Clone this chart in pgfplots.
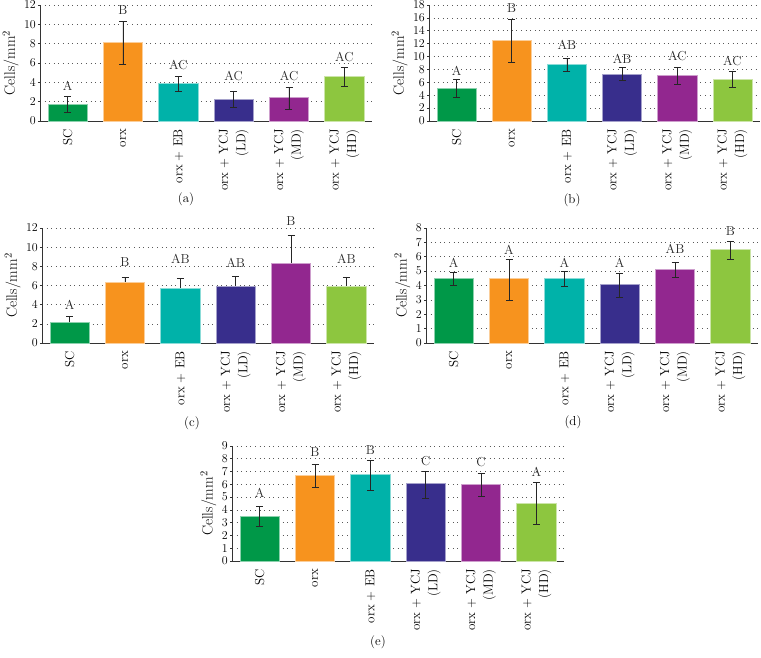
\documentclass[border=0pt]{standalone}
\usepackage{fontspec}
\usepackage{pgfplots}
\pgfplotsset{compat=1.18}
\definecolor{cSC}{RGB}{0,152,72}
\definecolor{cORX}{RGB}{247,147,30}
\definecolor{cEB}{RGB}{0,178,169}
\definecolor{cLD}{RGB}{56,46,140}
\definecolor{cMD}{RGB}{146,39,143}
\definecolor{cHD}{RGB}{141,198,63}
\newcommand{\fs}{\fontsize{13}{17.5}\selectfont}
\newcommand{\fl}{\fontsize{15}{17}\selectfont}
\pgfplotsset{
  panel/.style={
    scale only axis, width=332pt, height=116pt, anchor=south west,
    xmin=-0.5, xmax=5.5, ymin=0, clip=false,
    axis x line=bottom, axis y line=left,
    axis line style={-, black!80, line width=0.8pt},
    xtick={0,1,2,3,4,5},
    xticklabels={SC, orx, orx + EB, {orx + YCJ\\(LD)}, {orx + YCJ\\(MD)}, {orx + YCJ\\(HD)}},
    xtick style={draw=none},
    xticklabel style={rotate=90, anchor=east, align=right, font=\fs, inner sep=1pt},
    xticklabel shift=5pt,
    ymajorgrids,
    major grid style={black!65, line width=0.6pt, dash pattern=on 1pt off 3.6pt},
    ylabel={Cells/mm\textsuperscript{2}},
    ylabel style={font=\fl},
    yticklabel style={font=\fs, inner sep=2pt},
    tick align=outside, major tick length=2pt,
    ytick style={black!80, line width=0.6pt},
  },
  sbar/.style={ybar, bar shift=0pt, bar width=0.71, fill=#1, draw=#1!45!white, line width=0.6pt,
    error bars/.cd, y dir=both, y explicit,
    error bar style={black!85, line width=0.7pt},
    error mark options={rotate=90, black!85, line width=0.7pt, mark size=3.5pt}},
  sbarplus/.style={ybar, bar shift=0pt, bar width=0.71, fill=#1, draw=#1!45!white, line width=0.6pt,
    error bars/.cd, y dir=plus, y explicit,
    error bar style={black!85, line width=0.7pt},
    error mark options={rotate=90, black!85, line width=0.7pt, mark size=3.5pt}},
  lab/.style={draw=none, mark=none, nodes near coords, point meta=explicit symbolic,
    nodes near coords style={anchor=south, inner sep=0pt, font=\fs, black!85}},
}
\begin{document}
\begin{tikzpicture}
\useasboundingbox (0,0) rectangle (761pt,657pt);
% (a)
\begin{axis}[panel, at={(40pt,536pt)}, ymax=12, ytick={0,2,...,12}]
\addplot[sbar=cSC]  coordinates {(0,1.73) += (0,0.87) -= (0,0.86)};
\addplot[sbar=cORX] coordinates {(1,8.13) += (0,2.22) -= (0,2.28)};
\addplot[sbar=cEB]  coordinates {(2,3.88) += (0,0.69) -= (0,0.77)};
\addplot[sbar=cLD]  coordinates {(3,2.28) += (0,0.83) -= (0,0.86)};
\addplot[sbar=cMD]  coordinates {(4,2.42) += (0,1.11) -= (0,1.24)};
\addplot[sbar=cHD]  coordinates {(5,4.60) += (0,0.90) -= (0,0.97)};
\addplot[lab] coordinates {(0,3.11)[A] (1,10.97)[B] (2,5.33)[AC] (3,4.12)[AC] (4,4.12)[AC] (5,6.12)[AC]};
\end{axis}
% (b)
\begin{axis}[panel, at={(429pt,536pt)}, width=331pt, ymax=18, ytick={0,2,...,18}]
\addplot[sbar=cSC]  coordinates {(0,5.07) += (0,1.34) -= (0,1.35)};
\addplot[sbar=cORX] coordinates {(1,12.57) += (0,3.16) -= (0,3.41)};
\addplot[sbar=cEB]  coordinates {(2,8.74) += (0,0.99) -= (0,0.98)};
\addplot[sbar=cLD]  coordinates {(3,7.29) += (0,0.99) -= (0,0.98)};
\addplot[sbar=cMD]  coordinates {(4,7.14) += (0,1.24) -= (0,1.45)};
\addplot[sbar=cHD]  coordinates {(5,6.52) += (0,1.24) -= (0,1.24)};
\addplot[lab] coordinates {(0,7.09)[A] (1,16.8)[B] (2,11.0)[AB] (3,8.95)[AB] (4,9.36)[AC] (5,8.54)[AC]};
\end{axis}
% (c)
\begin{axis}[panel, at={(42pt,314pt)}, height=115pt, ymax=12, ytick={0,2,...,12}]
\addplot[sbarplus=cSC]  coordinates {(0,2.16) += (0,0.59) -= (0,0)};
\addplot[sbarplus=cORX] coordinates {(1,6.37) += (0,0.53) -= (0,0)};
\addplot[sbarplus=cEB]  coordinates {(2,5.74) += (0,0.96) -= (0,0)};
\addplot[sbarplus=cLD]  coordinates {(3,5.95) += (0,1.01) -= (0,0)};
\addplot[sbarplus=cMD]  coordinates {(4,8.35) += (0,2.85) -= (0,0)};
\addplot[sbarplus=cHD]  coordinates {(5,5.95) += (0,0.95) -= (0,0)};
\addplot[lab] coordinates {(0,3.48)[A] (1,8.0)[B] (2,8.24)[AB] (3,7.9)[AB] (4,12.2)[B] (5,8.24)[AB]};
\end{axis}
% (d)
\begin{axis}[panel, at={(426pt,314pt)}, height=115pt, ymax=8, ytick={0,1,...,8}]
\addplot[sbar=cSC]  coordinates {(0,4.52) += (0,0.39) -= (0,0.52)};
\addplot[sbar=cORX] coordinates {(1,4.47) += (0,1.36) -= (0,1.50)};
\addplot[sbar=cEB]  coordinates {(2,4.52) += (0,0.43) -= (0,0.58)};
\addplot[sbar=cLD]  coordinates {(3,4.10) += (0,0.78) -= (0,0.90)};
\addplot[sbar=cMD]  coordinates {(4,5.14) += (0,0.48) -= (0,0.58)};
\addplot[sbar=cHD]  coordinates {(5,6.52) += (0,0.58) -= (0,0.69)};
\addplot[lab] coordinates {(0,5.25)[A] (1,6.15)[A] (2,5.25)[A] (3,5.25)[A] (4,6.22)[AB] (5,7.49)[B]};
\end{axis}
% (e)
\begin{axis}[panel, at={(232pt,96pt)}, height=115pt, ymax=9, ytick={0,1,...,9}]
\addplot[sbar=cSC]  coordinates {(0,3.52) += (0,0.76) -= (0,0.81)};
\addplot[sbar=cORX] coordinates {(1,6.68) += (0,0.89) -= (0,0.94)};
\addplot[sbar=cEB]  coordinates {(2,6.76) += (0,1.12) -= (0,1.26)};
\addplot[sbar=cLD]  coordinates {(3,6.08) += (0,0.97) -= (0,1.15)};
\addplot[sbar=cMD]  coordinates {(4,6.00) += (0,0.89) -= (0,0.96)};
\addplot[sbar=cHD]  coordinates {(5,4.52) += (0,1.61) -= (0,1.67)};
\addplot[lab] coordinates {(0,4.99)[A] (1,8.17)[B] (2,8.3)[B] (3,7.44)[C] (4,7.34)[C] (5,6.6)[A]};
\end{axis}
\node[font=\fs] at (186pt,458pt) {(a)};
\node[font=\fs] at (572pt,457pt) {(b)};
\node[font=\fs] at (192pt,234pt) {(c)};
\node[font=\fs] at (573pt,235pt) {(d)};
\node[font=\fs] at (378pt,15pt) {(e)};
\end{tikzpicture}
\end{document}
